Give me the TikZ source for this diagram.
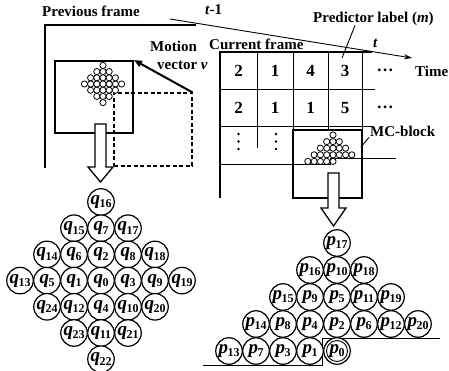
\documentclass[tikz,border=0pt]{standalone}
\usepackage{fontspec}
\setmainfont{Liberation Serif}
\usetikzlibrary{arrows.meta}
% label inside a ball: bold italic letter with a lowered bold index
\newcommand\ballabel[2]{\textbf{\textit{#1}}\kern-0.5pt\raisebox{-3.5pt}{\fontsize{12}{12}\selectfont\bfseries #2}}

\begin{document}
\begin{tikzpicture}[x=1pt,y=-1pt,
  thickline/.style={line width=2.3pt},
  blockline/.style={draw, line width=1.9pt, inner sep=0pt},
  gridline/.style={line width=0.9pt},
  txt/.style={font=\bfseries\fontsize{15}{18}\selectfont, inner sep=0pt},
  digit/.style={font=\bfseries\fontsize{17}{20}\selectfont, inner sep=0pt},
  ball/.style={circle, draw, line width=1.2pt, minimum size=26.5pt, inner sep=0pt,
    fill=white, font=\fontsize{19}{19}\selectfont},
  pellet/.style={draw, line width=0.8pt, fill=white},
  hollow/.style={draw, line width=1.3pt, fill=white, line join=miter},
]
\useasboundingbox (0,0) rectangle (449,371);

% ---- time axis and the two frames ----
\node[txt, anchor=base west] (prevlbl) at (42,17) {Previous frame};
\node[txt, anchor=base west] (tminus) at (205,15) {\textit{t}-1};
\node[txt, anchor=base west] (tnow) at (373,48) {\textit{t}};
\node[txt, anchor=base west] (timelbl) at (415,77) {Time};
\coordinate (axisstart) at (170,19);
\coordinate (axisend) at (412,58);
\draw[gridline, -{Stealth[length=8pt,width=5pt]}] (axisstart) -- (axisend);

\draw[thickline] (45,168) -- (45,25) -- (196,25);
\draw[thickline] (220,198) -- (220,52) -- (372,52);

\node[txt, anchor=base west] (motion1) at (150,52) {Motion};
\node[txt, anchor=base west] (motion2) at (157,70) {vector \textit{v}};
\node[txt, anchor=base west] (curlbl) at (209,50) {Current frame};
\node[txt, anchor=base west] (plabel) at (313,23) {Predictor label (\textit{m})};
\node[txt, anchor=base west] (mclbl) at (370,137) {MC-block};

% ---- previous frame: reference block and displaced block ----
\node[draw, dashed, dash pattern=on 4pt off 2.5pt, line width=1.1pt,
  minimum width=78pt, minimum height=73pt, inner sep=0pt] (shifted) at (153,129.5) {};
\node[blockline, minimum width=78pt, minimum height=72pt] (prevblk) at (94,97) {};
\draw[line width=2pt, -{Triangle[length=8pt,width=6.5pt]}] (shifted.north east) -- (prevblk.north east);

\foreach \r in {-3,...,3} {
  \pgfmathtruncatemacro\w{3-abs(\r)}
  \foreach \c in {-\w,...,\w}
    \draw[pellet] (103+6.2*\c, 84+6.2*\r) circle[radius=3.1pt];
}
\draw[hollow] (95,124) -- (106,124) -- (106,167) -- (113,167) -- (100.5,182)
  -- (88,167) -- (95,167) -- cycle;

% ---- current frame: label grid ----
\draw[gridline] (220,89) -- (375,89);
\draw[gridline] (220,126) -- (372,126);
\draw[gridline] (257,52) -- (257,148);
\draw[gridline] (293,52) -- (293,130);
\draw[gridline] (328,52) -- (328,130);
\draw[gridline] (362,52) -- (362,130);
\draw[gridline] (220,164.5) -- (330,164.5) -- (330,158) -- (396,158);

\node[digit] (c11) at (238.5,71) {2};
\node[digit] (c12) at (275,71) {1};
\node[digit] (c13) at (310.5,71) {4};
\node[digit] (c14) at (345,71) {3};
\node[digit] (c15) at (385,70) {\ldots};
\node[digit] (c21) at (238.5,108) {2};
\node[digit] (c22) at (275,108) {1};
\node[digit] (c23) at (310.5,108) {1};
\node[digit] (c24) at (345,108) {5};
\node[digit] (c25) at (385,107) {\ldots};
% vertical ellipses in the third row
\foreach \x in {238.5,276}
  \foreach \y in {134,141.5,149}
    \fill (\x,\y) circle[radius=1.3pt];

\coordinate (m3) at (342,58);
\draw[gridline] (plabel.south west) ++(42,-1) -- (m3);

\node[blockline, minimum width=69pt, minimum height=68pt] (mc) at (327.5,164) {};
\coordinate (mcedge) at (361,147);
\draw[gridline] (mclbl.south west) ++(-1,0) -- (mcedge);

\foreach \r in {0,...,3} {
  \foreach \c in {-\r,...,\r}
    \draw[pellet] (333+6.3*\c, 135+6.6*\r) circle[radius=3.1pt];
}
\foreach \c in {-4,...,0}
  \draw[pellet] (333+6.3*\c, 161.4) circle[radius=3.1pt];

\draw[hollow] (328,173) -- (339,173) -- (339,208) -- (346,208) -- (333.5,226)
  -- (321,208) -- (328,208) -- cycle;

% ---- causal boundary under the p balls ----
\draw[gridline] (203,365) -- (322.5,365) -- (322.5,338) -- (440,338);

% ---- q balls (diamond) ----
\foreach \c/\r/\n in {0/0/16,
  -1/1/15, 0/1/7, 1/1/17,
  -2/2/14, -1/2/6, 0/2/2, 1/2/8, 2/2/18,
  -3/3/13, -2/3/5, -1/3/1, 0/3/0, 1/3/3, 2/3/9, 3/3/19,
  -2/4/24, -1/4/12, 0/4/4, 1/4/10, 2/4/20,
  -1/5/23, 0/5/11, 1/5/21,
  0/6/22}
  \node[ball] (q\n) at (101+27*\c, 202+26.2*\r) {\ballabel{q}{\n}};

% ---- p balls (half diamond) ----
\foreach \c/\r/\n in {0/0/17,
  -1/1/16, 0/1/10, 1/1/18,
  -2/2/15, -1/2/9, 0/2/5, 1/2/11, 2/2/19,
  -3/3/14, -2/3/8, -1/3/4, 0/3/2, 1/3/6, 2/3/12, 3/3/20,
  -4/4/13, -3/4/7, -2/4/3, -1/4/1, 0/4/0}
  \node[ball] (p\n) at (337+27*\c, 243+27*\r) {\ballabel{p}{\n}};
\draw[line width=0.9pt] (p0) circle[radius=10.5pt];
\end{tikzpicture}
\end{document}
